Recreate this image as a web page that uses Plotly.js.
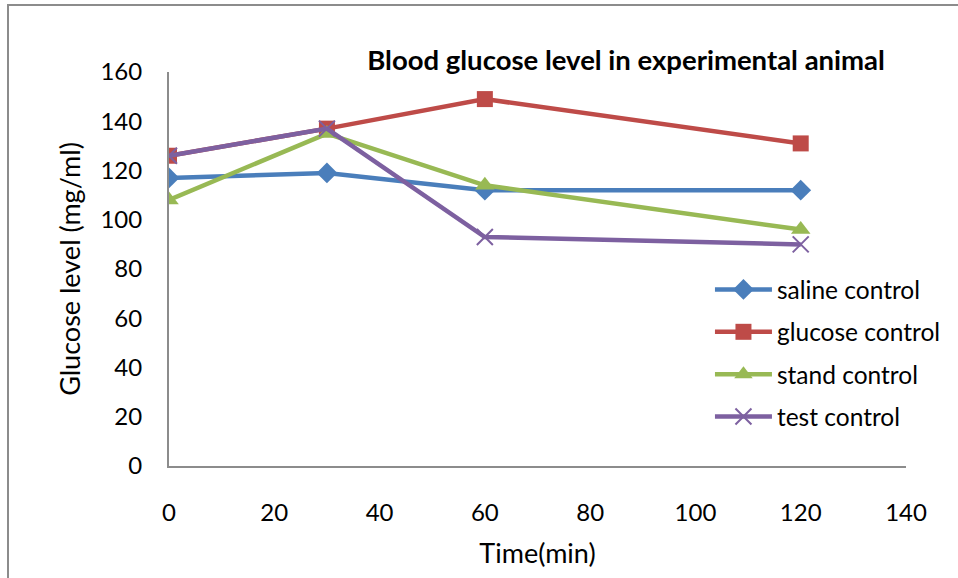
<!DOCTYPE html>
<html>
<head>
<meta charset="utf-8">
<script src="https://cdn.plot.ly/plotly-3.0.1.min.js"></script>
<style>
  html, body { margin: 0; padding: 0; background: #fff; }
  #wrap { position: relative; width: 958px; height: 578px; overflow: hidden; }
  #frame { position: absolute; left: 7px; top: 4px; width: 1000px; height: 700px;
           border-left: 2px solid #8c8c8c; border-top: 2px solid #8c8c8c; pointer-events: none; }
  #chart { position: absolute; left: 0; top: 0; width: 958px; height: 578px; }
</style>
</head>
<body>
<div id="wrap">
  <div id="chart"></div>
  <div id="frame"></div>
</div>
<script>
const timeMin = [0, 30, 60, 120];
const salineControl = [117, 119, 112, 112];
const glucoseControl = [126, 137, 149, 131];
const standControl = [108, 135, 114, 96];
const testControl = [126, 137, 93, 90];
const seriesNames = ["saline control", "glucose control", "stand control", "test control"];
const xTicks = [0, 20, 40, 60, 80, 100, 120, 140];
const yTicks = [0, 20, 40, 60, 80, 100, 120, 140, 160];

const font = "Lato, 'Open Sans', sans-serif";

const traces = [
  { y: salineControl, name: seriesNames[0], color: "#4A7EBB", symbol: "diamond", size: 16, mline: 0 },
  { y: glucoseControl, name: seriesNames[1], color: "#BE4B48", symbol: "square", size: 16, mline: 0 },
  { y: standControl, name: seriesNames[2], color: "#98B954", symbol: "triangle-up", size: 17, mline: 0 },
  { y: testControl, name: seriesNames[3], color: "#7D60A0", symbol: "x-thin-open", size: 16, mline: 2 }
].map((s, i) => ({
  x: timeMin,
  y: s.y,
  name: s.name,
  type: "scatter",
  mode: "lines+markers",
  legendgroup: "g" + i,
  line: { color: s.color, width: 4.5 },
  marker: { symbol: s.symbol, size: s.size, color: s.color,
            line: { color: s.color, width: s.mline } }
}));

const layout = {
  width: 958, height: 578,
  margin: { l: 169, r: 49, t: 72, b: 112 },
  paper_bgcolor: "#fff", plot_bgcolor: "#fff",
  font: { family: font, size: 24, color: "#000" },
  title: {
    text: "<b>Blood glucose level in experimental animal</b>",
    font: { family: font, size: 27.5, color: "#000" },
    x: 0.6535, xanchor: "center", y: 0.896, yanchor: "middle"
  },
  xaxis: {
    range: [0, 140], tickvals: xTicks, ticktext: xTicks.map(String),
    showgrid: false, zeroline: false, showline: true, linecolor: "#8c8c8c", linewidth: 2,
    ticks: "", ticklen: 0, tickfont: { size: 24 }, ticklabelstandoff: 24,
    title: { text: "Time(min)", font: { size: 27 }, standoff: 19 }
  },
  yaxis: {
    range: [0, 160], tickvals: yTicks, ticktext: yTicks.map(String),
    showgrid: false, zeroline: false, showline: true, linecolor: "#8c8c8c", linewidth: 2,
    ticks: "", ticklen: 0, tickfont: { size: 24 }, ticklabelstandoff: 20,
    title: { text: "Glucose level (mg/ml)", font: { size: 27 }, standoff: 12 }
  },
  showlegend: true,
  legend: {
    x: 0.734, y: 0.505, xanchor: "left", yanchor: "top",
    font: { size: 24.5 }, traceorder: "grouped", tracegroupgap: 7.5,
    bgcolor: "rgba(0,0,0,0)", itemwidth: 57
  }
};

Plotly.newPlot("chart", traces, layout, { displayModeBar: false, staticPlot: true });
</script>
</body>
</html>
